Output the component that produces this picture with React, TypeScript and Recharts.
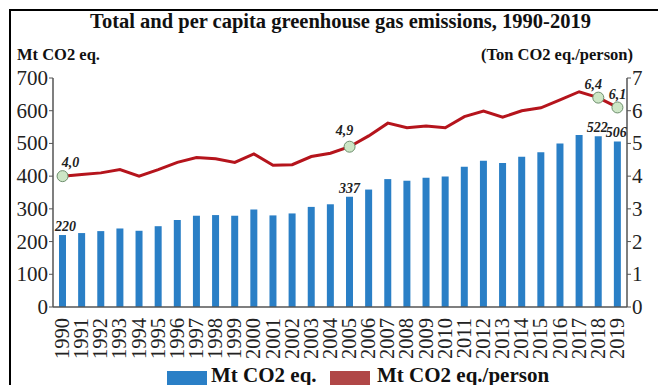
import React from "react";
import {
  ComposedChart,
  Bar,
  Line,
  XAxis,
  YAxis,
  LabelList,
} from "recharts";

// Emissions 1990-2019
const years = [
  "1990", "1991", "1992", "1993", "1994", "1995", "1996", "1997", "1998", "1999",
  "2000", "2001", "2002", "2003", "2004", "2005", "2006", "2007", "2008", "2009",
  "2010", "2011", "2012", "2013", "2014", "2015", "2016", "2017", "2018", "2019",
];

// total, Mt CO2 eq.
const totalEmissions = [
  220, 226, 232, 240, 233, 247, 266, 279, 281, 279,
  298, 280, 286, 306, 314, 337, 359, 391, 386, 395,
  399, 429, 447, 440, 459, 473, 500, 526, 522, 506,
];

// per capita, ton CO2 eq. per person
const perCapita = [
  4.0, 4.05, 4.1, 4.2, 4.0, 4.2, 4.42, 4.57, 4.53, 4.42,
  4.68, 4.33, 4.35, 4.6, 4.7, 4.9, 5.23, 5.62, 5.48, 5.53,
  5.48, 5.82, 5.99, 5.8, 6.0, 6.09, 6.33, 6.58, 6.4, 6.1,
];

const labelledYears = ["1990", "2005", "2018", "2019"];

const leftTicks = [0, 100, 200, 300, 400, 500, 600, 700];
const rightTicks = [0, 1, 2, 3, 4, 5, 6, 7];

const data = years.map((year, i) => ({
  year,
  total: totalEmissions[i],
  perCapita: perCapita[i],
}));

const FONT = '"Liberation Serif", "Times New Roman", serif';
const BLUE = "#2a7fc6";
const RED = "#b5141c";
const AXIS = "#555";

// small offsets so the value tags don't sit on top of the line
const lineLabelShift: Record<string, [number, number]> = {
  "1990": [8, -9],
  "2005": [-5, -12],
  "2018": [-5, -9],
  "2019": [0, -8],
};

const barLabelShift: Record<string, number> = {
  "1990": 3,
  "2005": 0,
  "2018": -1,
  "2019": -1,
};

const fmt = (v: number) => v.toFixed(1).replace(".", ",");

function PointDot(props: any) {
  const { cx, cy, payload, index } = props;
  if (!labelledYears.includes(payload.year)) return <g key={`d-${index}`} />;
  return (
    <circle
      key={`d-${index}`}
      cx={cx}
      cy={cy}
      r={5.5}
      fill="#cde6c6"
      stroke="#6d8e6d"
      strokeWidth={1}
    />
  );
}

function LineTag(props: any) {
  const { x, y, value, index } = props;
  const year = years[index];
  if (!labelledYears.includes(year)) return null;
  const [dx, dy] = lineLabelShift[year];
  return (
    <text
      x={x + dx}
      y={y + dy}
      textAnchor="middle"
      style={{ fontFamily: FONT }}
      fontSize={14}
      fontWeight="bold"
      fontStyle="italic"
      fill="#222"
    >
      {fmt(value)}
    </text>
  );
}

function BarTag(props: any) {
  const { x, y, width, value, index } = props;
  const year = years[index];
  if (!labelledYears.includes(year)) return null;
  return (
    <text
      x={x + width / 2 + barLabelShift[year]}
      y={y - 4}
      textAnchor="middle"
      style={{ fontFamily: FONT }}
      fontSize={14}
      fontWeight="bold"
      fontStyle="italic"
      fill="#222"
    >
      {value}
    </text>
  );
}

function YearTick(props: any) {
  const { x, y, payload } = props;
  return (
    <text
      x={x}
      y={y}
      transform={`rotate(-90, ${x}, ${y})`}
      textAnchor="end"
      dy={6.5}
      dx={-3}
      style={{ fontFamily: FONT }}
      fontSize={20.5}
      fill="#222"
    >
      {payload.value}
    </text>
  );
}

function ValueTick(props: any) {
  const { x, y, payload, textAnchor } = props;
  return (
    <text
      x={x}
      y={y}
      dy={7}
      textAnchor={textAnchor}
      style={{ fontFamily: FONT }}
      fontSize={21}
      fill="#222"
    >
      {payload.value}
    </text>
  );
}

export default function App() {
  return (
    <div
      style={{
        position: "relative",
        width: 658,
        height: 385,
        overflow: "hidden",
        background: "#fff",
        fontFamily: FONT,
      }}
    >
      <style>{"body{margin:0;overflow:hidden}"}</style>

      {/* frame */}
      <div style={{ position: "absolute", left: 9, top: 9, width: 649, height: 2, background: "#000" }} />
      <div style={{ position: "absolute", left: 9, top: 9, width: 2, height: 376, background: "#000" }} />

      <div
        style={{
          position: "absolute",
          top: 10,
          left: 0,
          width: 681,
          textAlign: "center",
          fontSize: 20.5,
          lineHeight: "23px",
          fontWeight: "bold",
          color: "#111",
        }}
      >
        Total and per capita greenhouse gas emissions, 1990-2019
      </div>
      <div style={{ position: "absolute", top: 45, left: 17, fontSize: 16.5, fontWeight: "bold", color: "#111" }}>
        Mt CO2 eq.
      </div>
      <div style={{ position: "absolute", top: 45, right: 25, fontSize: 16.5, fontWeight: "bold", color: "#111" }}>
        (Ton CO2 eq./person)
      </div>

      <ComposedChart
        width={658}
        height={385}
        data={data}
        margin={{ top: 78, right: 0, bottom: 0, left: 0 }}
        barCategoryGap={0}
        style={{ position: "absolute", left: 0, top: 0 }}
      >
        <XAxis
          dataKey="year"
          height={78}
          interval={0}
          tickLine={false}
          axisLine={{ stroke: AXIS, strokeWidth: 1.5 }}
          tick={<YearTick />}
        />
        <YAxis
          yAxisId="left"
          width={53}
          domain={[0, 700]}
          ticks={leftTicks}
          interval={0}
          tickSize={4}
          axisLine={{ stroke: AXIS, strokeWidth: 1.5 }}
          tickLine={{ stroke: AXIS }}
          tick={<ValueTick />}
          tickMargin={1}
        />
        <YAxis
          yAxisId="right"
          orientation="right"
          width={31}
          domain={[0, 7]}
          ticks={rightTicks}
          interval={0}
          tickSize={4}
          axisLine={{ stroke: AXIS, strokeWidth: 1.5 }}
          tickLine={{ stroke: AXIS }}
          tick={<ValueTick />}
          tickMargin={1}
        />
        <Bar
          yAxisId="left"
          dataKey="total"
          fill={BLUE}
          barSize={7}
          isAnimationActive={false}
        >
          <LabelList dataKey="total" content={<BarTag />} />
        </Bar>
        <Line
          yAxisId="right"
          dataKey="perCapita"
          type="linear"
          stroke={RED}
          strokeWidth={3}
          dot={PointDot}
          activeDot={false}
          isAnimationActive={false}
        >
          <LabelList dataKey="perCapita" content={<LineTag />} />
        </Line>
      </ComposedChart>

      {/* legend */}
      <div style={{ position: "absolute", left: 167, top: 371, width: 40, height: 16, background: BLUE }} />
      <div style={{ position: "absolute", left: 211, top: 363, fontSize: 21, fontWeight: "bold", color: "#111" }}>
        Mt CO2 eq.
      </div>
      <div style={{ position: "absolute", left: 330, top: 371, width: 40, height: 16, background: "#b04747" }} />
      <div style={{ position: "absolute", left: 377, top: 363, fontSize: 21, fontWeight: "bold", color: "#111" }}>
        Mt CO2 eq./person
      </div>
    </div>
  );
}
